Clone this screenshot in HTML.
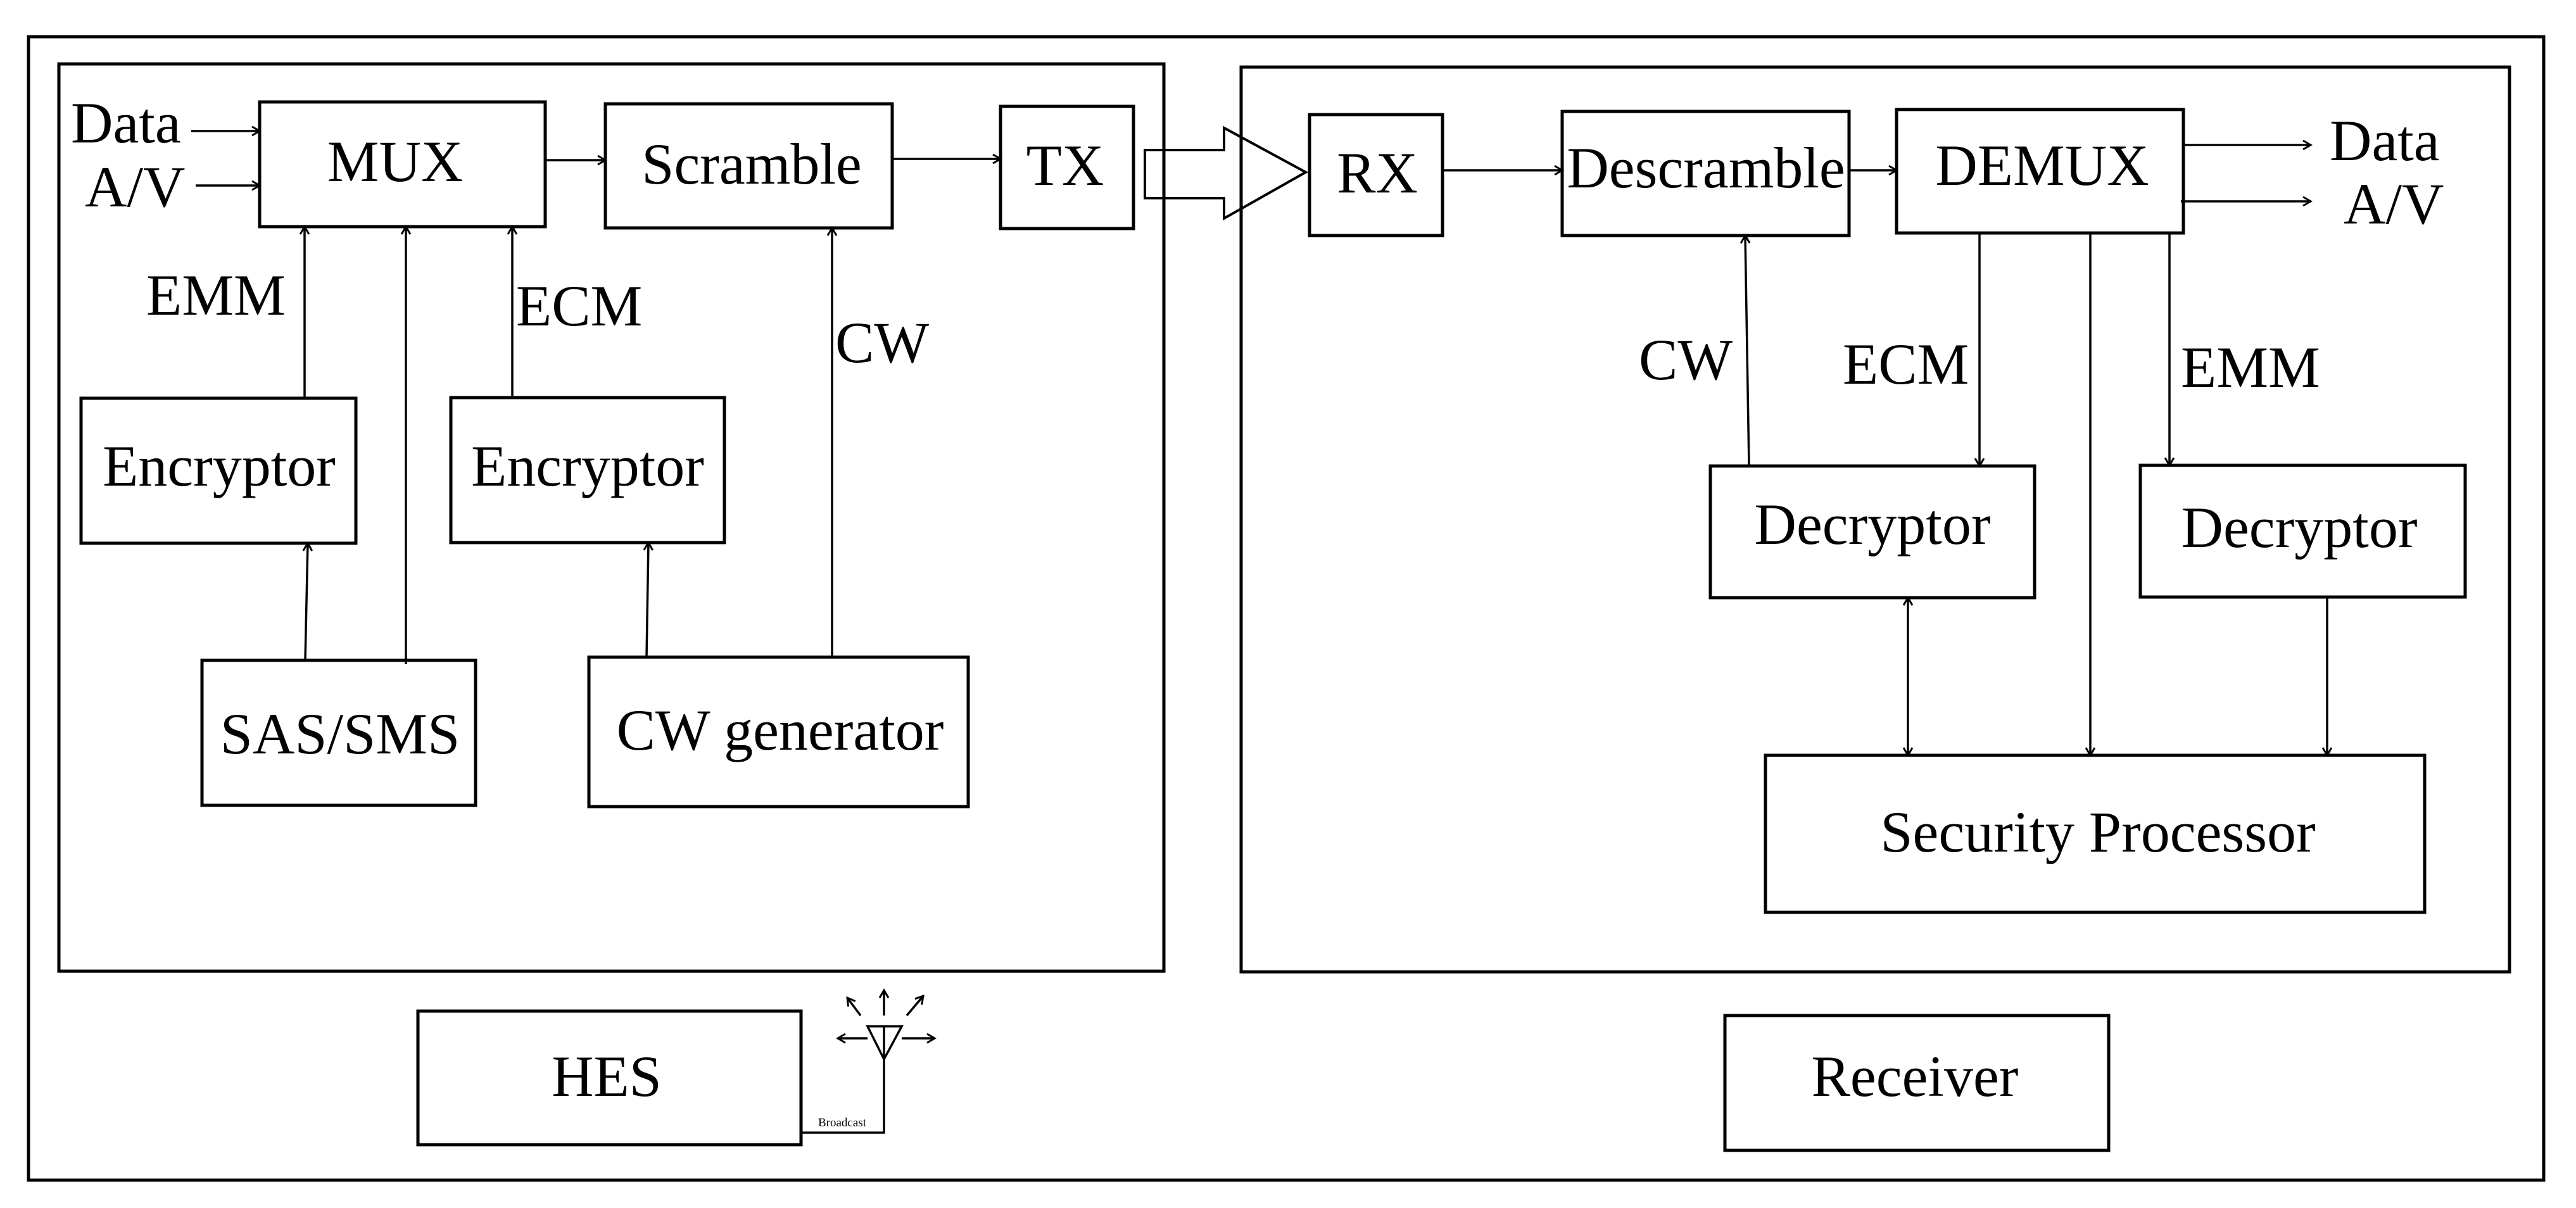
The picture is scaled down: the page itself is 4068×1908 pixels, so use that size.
<!DOCTYPE html>
<html><head><meta charset="utf-8"><style>
html,body{margin:0;padding:0;background:#fff}
svg{display:block}
text{font-family:"Liberation Serif",serif;font-size:92px;fill:#000}
</style></head><body>
<svg width="4068" height="1908" viewBox="0 0 4068 1908" xmlns="http://www.w3.org/2000/svg">
<defs>
<marker id="a" markerWidth="20" markerHeight="20" refX="14" refY="8" orient="auto" markerUnits="userSpaceOnUse">
<polyline points="2,1 14,8 2,15" fill="none" stroke="#000" stroke-width="3"/>
</marker>
<marker id="s" markerWidth="20" markerHeight="20" refX="2" refY="8" orient="auto" markerUnits="userSpaceOnUse">
<polyline points="14,1 2,8 14,15" fill="none" stroke="#000" stroke-width="3"/>
</marker>
</defs>
<g fill="none" stroke="#000" stroke-width="5">
<rect x="45" y="58" width="3972" height="1806"/>
<rect x="93" y="101" width="1745" height="1433"/>
<rect x="1960" y="106" width="2003" height="1429"/>
<rect x="410" y="161" width="451" height="197"/>
<rect x="956" y="164" width="453" height="196"/>
<rect x="1580" y="168" width="210" height="193"/>
<rect x="128" y="629" width="434" height="229"/>
<rect x="712" y="628" width="432" height="229"/>
<rect x="319" y="1043" width="432" height="229"/>
<rect x="930" y="1038" width="599" height="236"/>
<rect x="660" y="1597" width="605" height="211"/>
<rect x="2068" y="181" width="210" height="191"/>
<rect x="2467" y="176" width="453" height="196"/>
<rect x="2995" y="173" width="453" height="195"/>
<rect x="2701" y="736" width="512" height="208"/>
<rect x="3380" y="735" width="513" height="208"/>
<rect x="2788" y="1193" width="1041" height="248"/>
<rect x="2724" y="1604" width="606" height="213"/>
<polygon points="1808,237 1933,237 1933,202 2062,272 1933,345 1933,313 1808,313" stroke-width="4"/>
</g>
<g fill="none" stroke="#000" stroke-width="3.5">
<line x1="302" y1="207" x2="410" y2="207" marker-end="url(#a)"/>
<line x1="309" y1="293" x2="410" y2="293" marker-end="url(#a)"/>
<line x1="861" y1="253" x2="956" y2="253" marker-end="url(#a)"/>
<line x1="1409" y1="251" x2="1580" y2="251" marker-end="url(#a)"/>
<line x1="481" y1="629" x2="481" y2="358" marker-end="url(#a)"/>
<line x1="641" y1="1049" x2="641" y2="358" marker-end="url(#a)"/>
<line x1="809" y1="628" x2="809" y2="358" marker-end="url(#a)"/>
<line x1="1314" y1="1038" x2="1314" y2="360" marker-end="url(#a)"/>
<line x1="482" y1="1043" x2="486" y2="858" marker-end="url(#a)"/>
<line x1="1021" y1="1038" x2="1024" y2="857" marker-end="url(#a)"/>
<polyline points="1265,1789 1396,1789 1396,1673"/>
<polygon points="1370,1621 1424,1621 1396,1673"/>
<line x1="1396" y1="1621" x2="1396" y2="1673"/>
<line x1="1370" y1="1640" x2="1323" y2="1640" marker-end="url(#a)"/>
<line x1="1424" y1="1640" x2="1476" y2="1640" marker-end="url(#a)"/>
<line x1="1396" y1="1604" x2="1396" y2="1564" marker-end="url(#a)"/>
<line x1="1359" y1="1604" x2="1338" y2="1576" marker-end="url(#a)"/>
<line x1="1432" y1="1604" x2="1458" y2="1573" marker-end="url(#a)"/>
<line x1="2278" y1="269" x2="2467" y2="269" marker-end="url(#a)"/>
<line x1="2920" y1="269" x2="2995" y2="269" marker-end="url(#a)"/>
<line x1="3448" y1="229" x2="3649" y2="229" marker-end="url(#a)"/>
<line x1="3444" y1="318" x2="3649" y2="318" marker-end="url(#a)"/>
<line x1="2762" y1="736" x2="2756" y2="372" marker-end="url(#a)"/>
<line x1="3126" y1="368" x2="3126" y2="736" marker-end="url(#a)"/>
<line x1="3301" y1="368" x2="3301" y2="1193" marker-end="url(#a)"/>
<line x1="3426" y1="368" x2="3426" y2="735" marker-end="url(#a)"/>
<line x1="3013" y1="944" x2="3013" y2="1193" marker-start="url(#s)" marker-end="url(#a)"/>
<line x1="3675" y1="943" x2="3675" y2="1193" marker-end="url(#a)"/>
</g>
<g text-anchor="middle">
<text x="624" y="286">MUX</text>
<text x="1187" y="290">Scramble</text>
<text x="1682" y="292">TX</text>
<text x="346" y="767">Encryptor</text>
<text x="928" y="767">Encryptor</text>
<text x="537" y="1190">SAS/SMS</text>
<text x="1232" y="1184">CW generator</text>
<text x="958" y="1731">HES</text>
<text x="2175" y="304">RX</text>
<text x="2694" y="296">Descramble</text>
<text x="3225" y="292">DEMUX</text>
<text x="2957" y="859">Decryptor</text>
<text x="3631" y="864">Decryptor</text>
<text x="3313" y="1345">Security Processor</text>
<text x="3024" y="1731">Receiver</text>
</g>
<text x="112" y="225">Data</text>
<text x="134" y="326">A/V</text>
<text x="231" y="497">EMM</text>
<text x="815" y="514">ECM</text>
<text x="1319" y="572">CW</text>
<text x="3679" y="253">Data</text>
<text x="3701" y="353">A/V</text>
<text x="2588" y="599">CW</text>
<text x="2910" y="606">ECM</text>
<text x="3444" y="611">EMM</text>
<text x="1292" y="1779" style="font-size:19px">Broadcast</text>
</svg>
</body></html>
